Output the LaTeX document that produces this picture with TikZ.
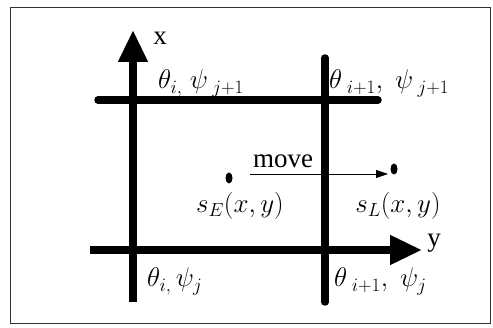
\RequirePackage{fix-cm}
\documentclass[tikz,border=0pt]{standalone}
\usepackage{fontspec}
\setmainfont{Liberation Serif}
\usetikzlibrary{arrows.meta,shapes.geometric}
\begin{document}
\begin{tikzpicture}[x=1pt,y=-1pt,
  grid/.style={line width=7.5pt,line cap=round},
  axis/.style={line width=7.5pt,-{Triangle[length=32pt,width=28pt]}},
  lbl/.style={font=\fontsize{27}{29}\selectfont,inner sep=0pt},
  dot/.style={fill,ellipse,minimum width=7pt,minimum height=11pt,inner sep=0pt}]
\useasboundingbox (0,0) rectangle (493,328);
\draw[line width=0.9pt,black!80] (10,7) rectangle (490,323);
% coordinates
\coordinate (xb) at (133,302);
\coordinate (xt) at (133,30);
\coordinate (rb) at (325,302);
\coordinate (rt) at (325,58);
\coordinate (tl) at (98,100);
\coordinate (tr) at (378,100);
\coordinate (yl) at (90,250);
\coordinate (yr) at (422,250);
% grid lines
\draw[grid] (tl) -- (tr);
\draw[grid] (rb) -- (rt);
\draw[axis] (yl) -- (yr);
\draw[axis] (xb) -- (xt);
% axis labels
\node[lbl] (xl) at (160,38) {x};
\node[lbl] (ylab) at (434,243) {y};
% corner labels
\node[lbl,anchor=base west] (a) at (158,89) {$\theta_{i,}\;\psi_{\;j+1}$};
\node[lbl,anchor=base west] (b) at (329,89) {$\theta_{\;i+1},\;\psi_{\;j+1}$};
\node[lbl,anchor=base west] (c) at (147,287) {$\theta_{i,}\,\psi_j$};
\node[lbl,anchor=base west] (d) at (334,287) {$\theta_{\;i+1},\;\psi_j$};
% points
\node[dot] (se) at (229,178) {};
\node[dot] (sl) at (394,169) {};
\node[lbl] (sel) at (240,206) {$s_E(x,y)$};
\node[lbl] (sll) at (398,206) {$s_L(x,y)$};
\coordinate (ms) at (250,174);
\coordinate (me) at (388,174);
\draw[line width=0.8pt,-{Triangle[length=12pt,width=8pt]}] (ms) -- (me);
\node[lbl,anchor=base] (mv) at (283,168) {move};
\end{tikzpicture}
\end{document}
